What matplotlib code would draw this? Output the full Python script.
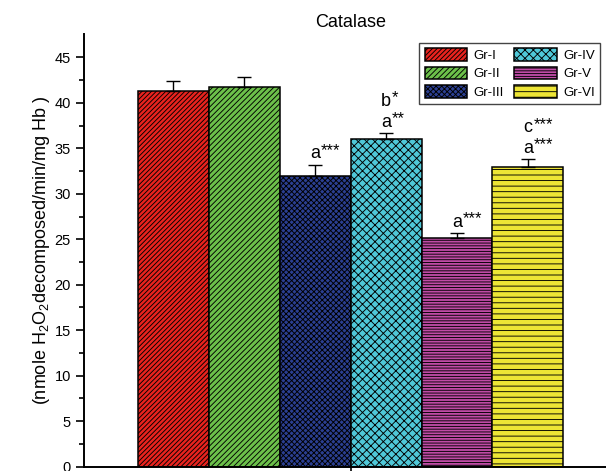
import matplotlib.pyplot as plt
import numpy as np

plt.rcParams['font.family'] = ['Liberation Sans', 'DejaVu Sans']
plt.rcParams['mathtext.fontset'] = 'custom'
plt.rcParams['mathtext.rm'] = 'Liberation Sans'
plt.rcParams['mathtext.default'] = 'regular'
plt.rcParams['hatch.linewidth'] = 0.65

groups = ['Gr-I', 'Gr-II', 'Gr-III', 'Gr-IV', 'Gr-V', 'Gr-VI']
means = [41.3, 41.8, 32.0, 36.0, 25.1, 33.0]
errors = [1.1, 1.1, 1.2, 0.7, 0.6, 0.8]
# significance letters and stars, bottom line first
marks = [[], [], [('a', '***')], [('a', '**'), ('b', '*')],
         [('a', '***')], [('a', '***'), ('c', '***')]]

colors = ['#e8231e', '#6cc04a', '#2b3f92', '#4fc8d8', '#c04ba6', '#ede535']
hatches = ['///////', '//////', 'xxxxxx', 'xxxx', '------', '---']

fig = plt.figure(figsize=(6.06, 4.71), dpi=100)
ax = fig.add_axes([0.1386, 0.0093, 0.88, 0.919])

width = 0.1329
x = (np.arange(len(groups)) - 2.5) * width

for i in range(len(groups)):
    ax.bar(x[i], means[i], width, color=colors[i], edgecolor='black',
           linewidth=1.1, hatch=hatches[i], label=groups[i], zorder=2)
    ax.errorbar(x[i], means[i], yerr=[[0], [errors[i]]], fmt='none',
                ecolor='black', elinewidth=1, capsize=5, capthick=1, zorder=3)
    for j, (letter, stars) in enumerate(marks[i]):
        ty = means[i] + errors[i] + 0.7 + j * 2.25
        ax.text(x[i], ty, letter, ha='center', va='baseline', fontsize=13)
        ax.annotate(stars, xy=(x[i], ty), xytext=(4, 2.5),
                    textcoords='offset points', ha='left', va='baseline',
                    fontsize=12)

ax.set_xlim(-0.5, 0.5)
ax.set_ylim(0, 47.6)
ax.set_yticks(np.arange(0, 50, 5))
ax.set_yticks(np.arange(2.5, 47.5, 5), minor=True)
ax.set_xticks([0])
ax.set_xticklabels([''])
ax.tick_params(axis='y', which='major', length=6, width=1.2, labelsize=10.5)
ax.tick_params(axis='y', which='minor', length=3.5, width=1.2)
ax.tick_params(axis='x', length=5, width=1.2)
for s in ['top', 'right']:
    ax.spines[s].set_visible(False)
for s in ['left', 'bottom']:
    ax.spines[s].set_linewidth(1.4)

ax.set_ylabel('(nmole H$_2$O$_2$decomposed/min/mg Hb )', fontsize=13, labelpad=2)
ax.set_title('Catalase', fontsize=13, pad=5)

leg = ax.legend(ncol=2, loc='upper right', bbox_to_anchor=(0.968, 0.979),
                borderaxespad=0, fontsize=9.5, handlelength=3.2, handleheight=1.1,
                columnspacing=0.8, handletextpad=0.5, labelspacing=0.35,
                fancybox=False, edgecolor='#444444', framealpha=1)
leg.get_frame().set_linewidth(1.0)

fig.savefig('out.png', dpi=100)
